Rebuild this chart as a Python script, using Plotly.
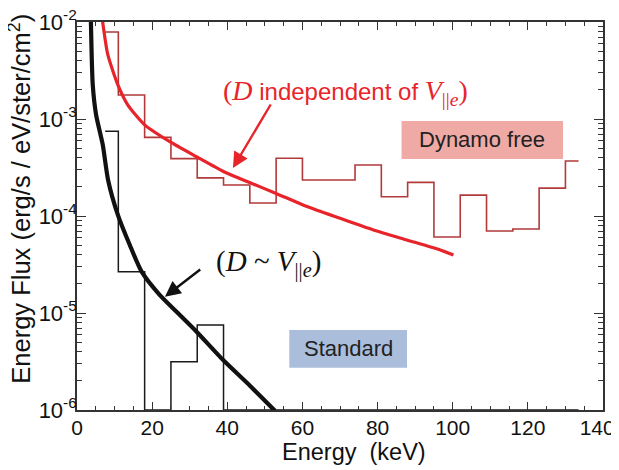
import plotly.graph_objects as go

# ---------------- data ----------------
bin_centers = [7.5, 14.5, 21.5, 28.5, 35.5, 42.5, 49.5, 56.5, 63.5, 70.5,
               77.5, 84.5, 91.5, 98.5, 105.5, 112.5, 119.5, 126.5, 133.5]
dynamo_hist = [7.9e-3, 1.77e-3, 6.47e-4, 3.9e-4, 2.47e-4, 2.09e-4, 1.36e-4,
               3.94e-4, 2.35e-4, 2.35e-4, 3.36e-4, 1.58e-4, 2.22e-4, 6.08e-5,
               1.64e-4, 7.0e-5, 7.34e-5, 1.94e-4, 3.69e-4]
standard_hist = [7.46e-4, 2.67e-5, 1e-6, 3.15e-6, 7.5e-6, 1e-6, 1e-6, 1e-6,
                 1e-6, 1e-6, 1e-6, 1e-6, 1e-6, 1e-6, 1e-6, 1e-6, 1e-6, 1e-6, 1e-6]

red_energy = [6.8, 8.2, 10.85, 13.5, 18.0, 24.7, 31.8, 39.1, 46.1, 53.0,
              61.2, 70.0, 78.9, 87.8, 96.7, 100.2]
red_flux = [1.02e-2, 4.6e-3, 2.26e-3, 1.40e-3, 8.7e-4, 5.83e-4, 4.08e-4,
            2.86e-4, 2.20e-4, 1.71e-4, 1.25e-4, 9.46e-5, 7.18e-5, 5.66e-5,
            4.46e-5, 3.96e-5]

black_energy = [3.7, 4.19, 5.07, 6.85, 8.27, 10.9, 14.05, 17.2, 22.05, 26.5,
                31.4, 38.9, 46.1, 52.7]
black_flux = [1.02e-2, 2.26e-3, 1.11e-3, 5.43e-4, 2.35e-4, 1.02e-4, 5.02e-5,
              2.67e-5, 1.53e-5, 1.03e-5, 6.68e-6, 3.27e-6, 1.77e-6, 0.98e-6]

y_tickvals = [1e-6, 1e-5, 1e-4, 1e-3, 1e-2]
y_ticktext = ["10<sup>-6</sup>", "10<sup>-5</sup>", "10<sup>-4</sup>",
              "10<sup>-3</sup>", "10<sup>-2</sup>"]
x_tickvals = [0, 20, 40, 60, 80, 100, 120, 140]
x_ticktext = ["0", "20", "40", "60", "80", "100", "120", "140\u00a0\u00a0"]

SANS = "Liberation Sans, Arial, Helvetica, sans-serif"
SERIF = "Liberation Serif"
AX = "#333333"

fig = go.Figure()

fig.add_trace(go.Scatter(x=bin_centers, y=dynamo_hist, mode="lines",
                         line=dict(color="#B23A3A", width=1.6, shape="hvh"),
                         showlegend=False))
fig.add_trace(go.Scatter(x=bin_centers, y=standard_hist, mode="lines",
                         line=dict(color="#1a1a1a", width=1.5, shape="hvh"),
                         showlegend=False))
fig.add_trace(go.Scatter(x=red_energy, y=red_flux, mode="lines",
                         line=dict(color="#E8242B", width=3.2, shape="spline", smoothing=0.6),
                         showlegend=False))
fig.add_trace(go.Scatter(x=black_energy, y=black_flux, mode="lines",
                         line=dict(color="#111111", width=4.2, shape="spline", smoothing=0.6),
                         showlegend=False))

# label boxes (paper coordinates)
fig.add_shape(type="rect", xref="paper", yref="paper", x0=0.617, x1=0.924, y0=0.647, y1=0.745,
              fillcolor="#F0AAA5", line=dict(width=0), layer="below")
fig.add_shape(type="rect", xref="paper", yref="paper", x0=0.4036, x1=0.6274, y0=0.109, y1=0.206,
              fillcolor="#AABEDC", line=dict(width=0), layer="below")

fig.add_annotation(x=0.7705, y=0.696, xref="paper", yref="paper", text="Dynamo free",
                   showarrow=False, xanchor="center", yanchor="middle",
                   font=dict(family=SANS, size=22, color="#222222"))
fig.add_annotation(x=0.5155, y=0.1575, xref="paper", yref="paper", text="Standard",
                   showarrow=False, xanchor="center", yanchor="middle",
                   font=dict(family=SANS, size=22, color="#222222"))

# labels
red_text = ('<span style="font-family:Liberation Serif;font-size:28px">(<i>D</i></span>'
            ' independent of '
            '<span style="font-family:Liberation Serif;font-size:28px"><i>V</i>'
            '<sub>||<i>e</i></sub>)</span>')
fig.add_annotation(x=71.4, y=-2.722, xref="x", yref="y", text=red_text,
                   showarrow=False, xanchor="center", yanchor="middle",
                   font=dict(family=SANS, size=24, color="#E8242B"))
black_text = ('(<i>D</i> ~ <i>V</i><sub>||<i>e</i></sub>)')
fig.add_annotation(x=51.1, y=-4.485, xref="x", yref="y", text=black_text,
                   showarrow=False, xanchor="center", yanchor="middle",
                   font=dict(family=SERIF, size=29, color="#111111"))

# arrows
fig.add_annotation(x=41.5, y=-3.505, ax=51.8, ay=-2.835, xref="x", yref="y",
                   axref="x", ayref="y", text="", showarrow=True, arrowhead=2,
                   arrowsize=1.3, arrowwidth=2.4, arrowcolor="#E8242B")
fig.add_annotation(x=23.4, y=-4.832, ax=33.2, ay=-4.539, xref="x", yref="y",
                   axref="x", ayref="y", text="", showarrow=True, arrowhead=2,
                   arrowsize=1.3, arrowwidth=2.4, arrowcolor="#111111")

# axis titles
fig.add_annotation(x=0.527, y=-0.108, xref="paper", yref="paper", text="Energy  (keV)",
                   showarrow=False, xanchor="center", yanchor="middle",
                   font=dict(family=SANS, size=23.5, color="#111111"))
fig.add_annotation(x=-0.11, y=0.545, xref="paper", yref="paper",
                   text="Energy Flux (erg/s / eV/ster/cm<sup>2</sup>)", textangle=-90,
                   showarrow=False, xanchor="center", yanchor="middle",
                   font=dict(family=SANS, size=25.5, color="#111111"))

fig.update_xaxes(range=[0, 140], tickvals=x_tickvals, ticktext=x_ticktext,
                 ticks="inside", ticklen=8,
                 tickwidth=1.3, tickcolor=AX, showline=True, linecolor=AX, linewidth=1.6,
                 mirror="allticks", showgrid=False, zeroline=False, automargin=False,
                 tickfont=dict(family=SANS, size=21, color="#111111"),
                 ticklabelstandoff=-2, ticklabeloverflow="allow",
                 minor=dict(dtick=5, ticks="inside", ticklen=4, tickcolor=AX, tickwidth=1.1,
                            showgrid=False))
fig.update_yaxes(type="log", range=[-6, -2], tickvals=y_tickvals, ticktext=y_ticktext,
                 ticks="inside", ticklen=9, tickwidth=1.3, tickcolor=AX,
                 showline=True, linecolor=AX, linewidth=1.6, mirror="allticks",
                 showgrid=False, zeroline=False, automargin=False,
                 tickfont=dict(family=SANS, size=22, color="#111111"),
                 ticklabelstandoff=-6, ticklabeloverflow="allow",
                 minor=dict(dtick="D1", ticks="inside", ticklen=5, tickcolor=AX,
                            tickwidth=1.1, showgrid=False))

# the page body adds an 8 px offset; margins compensate so the plot area
# sits at x 77..603, y 22..410 in the window
fig.update_layout(width=619, height=470, margin=dict(l=69, r=24, t=14, b=68, autoexpand=False),
                  plot_bgcolor="white", paper_bgcolor="white", showlegend=False)

fig.write_html("out.html")
